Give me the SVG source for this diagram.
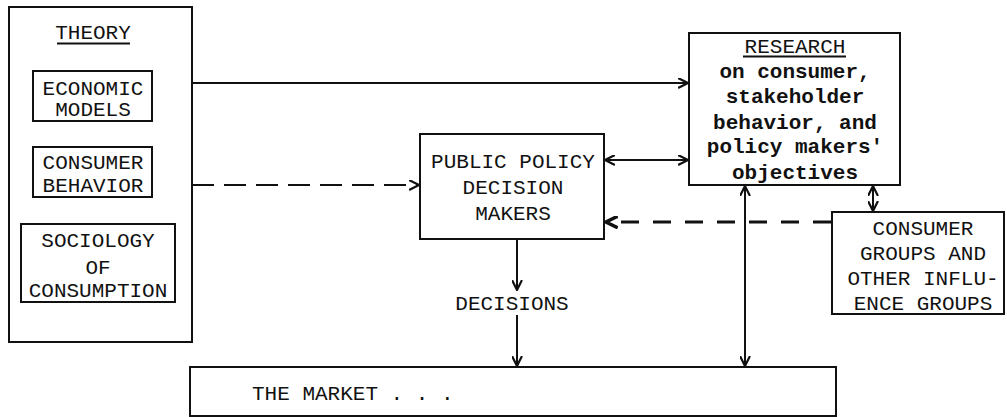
<svg xmlns="http://www.w3.org/2000/svg" width="1007" height="417" viewBox="0 0 1007 417">
<style>
  .box { fill: #fff; stroke: #111; stroke-width: 2; }
  .t { font-family: "Liberation Mono", "Courier New", monospace; font-size: 21px; fill: #111; text-anchor: middle; }
  .tb { font-weight: bold; }
  .ln { stroke: #111; stroke-width: 2; fill: none; }
  .dash1 { stroke: #111; stroke-width: 2; fill: none; stroke-dasharray: 22 10; }
  .dash2 { stroke: #111; stroke-width: 3; fill: none; stroke-dasharray: 18 14; }
</style>
<defs>
  <marker id="arr" viewBox="0 0 10 10" refX="9" refY="5" markerWidth="11" markerHeight="11" markerUnits="userSpaceOnUse" orient="auto-start-reverse">
    <path d="M0,0.5 L9,5 L0,9.5" fill="none" stroke="#111" stroke-width="2"/>
  </marker>
  <marker id="arrB" viewBox="0 0 10 10" refX="9" refY="5" markerWidth="13" markerHeight="13" markerUnits="userSpaceOnUse" orient="auto-start-reverse">
    <path d="M0,0.5 L9,5 L0,9.5" fill="none" stroke="#111" stroke-width="2.6"/>
  </marker>
</defs>
<rect x="0" y="0" width="1007" height="417" fill="#fff"/>

<g id="theory">
  <rect class="box" x="9" y="7" width="183" height="335"/>
  <text class="t" x="93" y="39">THEORY</text>
  <line class="ln" x1="57" y1="43.5" x2="130" y2="43.5" stroke-width="1.5"/>
</g>
<g id="economic-models">
  <rect class="box" x="33" y="71" width="119" height="50" stroke-width="1.6"/>
  <text class="t" x="93" y="95">ECONOMIC</text>
  <text class="t" x="93" y="116">MODELS</text>
</g>
<g id="consumer-behavior">
  <rect class="box" x="33" y="147" width="119" height="50" stroke-width="1.6"/>
  <text class="t" x="93" y="169">CONSUMER</text>
  <text class="t" x="93" y="192">BEHAVIOR</text>
</g>
<g id="sociology">
  <rect class="box" x="21" y="224" width="154" height="78" stroke-width="1.6"/>
  <text class="t" x="98" y="247">SOCIOLOGY</text>
  <text class="t" x="98" y="274">OF</text>
  <text class="t" x="98" y="297">CONSUMPTION</text>
</g>

<g id="public-policy">
  <rect class="box" x="420" y="134" width="184" height="105"/>
  <text class="t" x="513" y="168">PUBLIC POLICY</text>
  <text class="t" x="513" y="194">DECISION</text>
  <text class="t" x="513" y="220">MAKERS</text>
</g>

<g id="research">
  <rect class="box" x="689" y="33" width="211" height="152"/>
  <text class="t" x="795" y="53">RESEARCH</text>
  <line class="ln" x1="743" y1="56.5" x2="846" y2="56.5" stroke-width="1.5"/>
  <text class="t tb" x="795" y="78">on consumer,</text>
  <text class="t tb" x="795" y="103">stakeholder</text>
  <text class="t tb" x="795" y="129">behavior, and</text>
  <text class="t tb" x="795" y="153">policy makers'</text>
  <text class="t tb" x="795" y="179">objectives</text>
</g>

<g id="consumer-groups">
  <rect class="box" x="832" y="212" width="172" height="102"/>
  <text class="t" x="923" y="235">CONSUMER</text>
  <text class="t" x="923" y="260">GROUPS AND</text>
  <text class="t" x="923" y="285">OTHER INFLU-</text>
  <text class="t" x="923" y="310">ENCE GROUPS</text>
</g>

<g id="market">
  <rect class="box" x="190" y="367" width="646" height="49" stroke-width="1.6"/>
  <text class="t" x="252" y="400" style="text-anchor:start">THE MARKET . . .</text>
</g>

<g id="connectors">
  <line class="ln" x1="192" y1="83" x2="688" y2="83" marker-end="url(#arr)"/>
  <line class="dash1" x1="192" y1="185" x2="419" y2="185" marker-end="url(#arr)"/>
  <line class="ln" x1="605" y1="160" x2="688" y2="160" marker-start="url(#arr)" marker-end="url(#arr)"/>
  <line class="dash2" x1="831" y1="222" x2="606" y2="222" marker-end="url(#arrB)"/>
  <line class="ln" x1="745" y1="186" x2="745" y2="366" marker-start="url(#arr)" marker-end="url(#arr)"/>
  <line class="ln" x1="873" y1="186" x2="873" y2="211" stroke-width="2.5" marker-start="url(#arr)" marker-end="url(#arr)"/>
  <line class="ln" x1="517" y1="240" x2="517" y2="290" marker-end="url(#arr)"/>
  <text class="t" x="512" y="310">DECISIONS</text>
  <line class="ln" x1="517" y1="315" x2="517" y2="366" marker-end="url(#arr)"/>
</g>
</svg>
